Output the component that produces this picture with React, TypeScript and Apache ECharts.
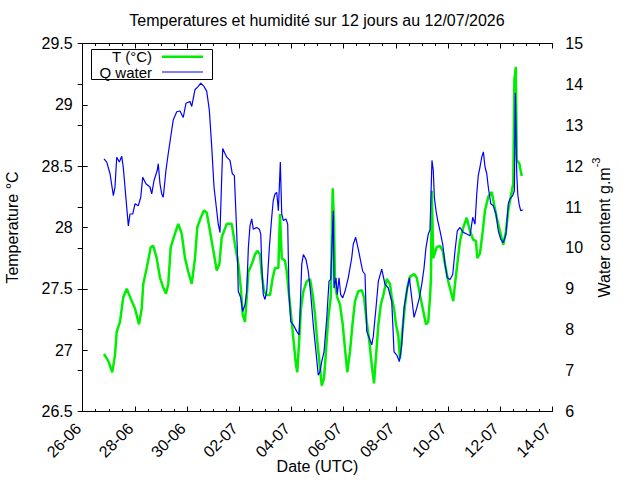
import React, { useEffect, useRef } from "react";
import * as echarts from "echarts";

// hours counted from 26-06-2026 00:00 UTC
const dateTickLabels = ["26-06", "28-06", "30-06", "02-07", "04-07", "06-07", "08-07", "10-07", "12-07", "14-07"];

const tempHours = [19.6, 23.6, 27.2, 29.7, 31.3, 34.3, 37.3, 40.5, 45.1, 48.1, 51.8, 54.3, 55.7, 58.9, 62.6, 64.9, 68.1, 71.1, 74.1, 76.6, 78.7, 81.0, 84.9, 87.9, 91.1, 94.1, 97.1, 100.3, 103.3, 105.4, 108.6, 111.6, 114.1, 117.1, 120.2, 123.3, 125.7, 127.9, 132.5, 137.1, 140.1, 143.2, 145.4, 147.2, 149.3, 150.9, 152.4, 155.5, 158.5, 160.6, 163.1, 164.7, 166.8, 169.3, 172.3, 174.8, 176.9, 180.0, 181.5, 183.1, 186.1, 187.7, 189.8, 192.3, 194.4, 196.2, 197.4, 199.3, 200.8, 203.0, 206.1, 209.1, 211.6, 213.7, 215.8, 217.7, 219.9, 222.0, 223.8, 225.9, 228.2, 230.0, 231.2, 232.1, 234.2, 236.7, 239.2, 241.3, 243.4, 245.9, 248.4, 250.5, 253.5, 256.7, 258.8, 261.3, 263.7, 265.9, 268.0, 272.0, 274.2, 276.6, 279.7, 282.7, 284.3, 286.4, 288.2, 290.3, 291.9, 294.0, 296.5, 298.6, 301.1, 304.8, 307.3, 310.3, 313.3, 315.8, 317.9, 319.5, 320.4, 321.1, 322.5, 325.7, 328.7, 331.2, 333.3, 336.3, 339.5, 340.9, 342.5, 344.6, 347.1, 350.1, 353.3, 356.3, 359.3, 361.8, 363.0, 365.5, 368.0, 370.1, 373.1, 376.3, 378.4, 380.9, 383.9, 386.9, 389.4, 391.5, 393.8, 396.1, 397.1, 398.4, 399.3, 401.7, 403.9];
const tempValues = [26.97, 26.91, 26.82, 26.96, 27.15, 27.23, 27.43, 27.5, 27.4, 27.34, 27.21, 27.34, 27.54, 27.67, 27.84, 27.85, 27.75, 27.59, 27.51, 27.46, 27.54, 27.84, 27.95, 28.03, 27.95, 27.75, 27.64, 27.54, 27.75, 28.0, 28.08, 28.14, 28.12, 27.97, 27.81, 27.65, 27.7, 27.92, 28.03, 28.03, 27.86, 27.7, 27.51, 27.29, 27.23, 27.43, 27.64, 27.7, 27.78, 27.81, 27.78, 27.62, 27.48, 27.45, 27.45, 27.59, 27.67, 27.67, 28.11, 27.75, 27.73, 27.64, 27.45, 27.23, 27.04, 26.88, 26.82, 27.1, 27.34, 27.48, 27.56, 27.58, 27.45, 27.29, 27.07, 26.91, 26.71, 26.77, 26.99, 27.26, 27.43, 28.32, 28.03, 27.54, 27.43, 27.37, 27.21, 27.01, 26.82, 26.99, 27.23, 27.4, 27.48, 27.49, 27.43, 27.23, 27.07, 26.88, 26.73, 27.21, 27.37, 27.45, 27.58, 27.54, 27.43, 27.34, 27.21, 27.12, 26.93, 27.15, 27.37, 27.51, 27.6, 27.62, 27.59, 27.45, 27.32, 27.21, 27.23, 27.43, 27.59, 28.3, 27.75, 27.84, 27.85, 27.81, 27.7, 27.56, 27.45, 27.4, 27.54, 27.7, 27.89, 28.0, 28.08, 27.97, 27.9, 27.89, 27.75, 27.79, 27.97, 28.14, 28.25, 28.29, 28.19, 28.08, 27.97, 27.86, 27.97, 28.14, 28.25, 28.36, 29.2, 29.31, 28.55, 28.52, 28.42];

const waterHours = [19.6, 22.1, 25.1, 28.2, 29.7, 31.3, 33.7, 35.9, 37.3, 38.9, 40.5, 42.0, 43.5, 46.0, 48.1, 51.1, 53.4, 55.2, 58.2, 61.9, 63.5, 65.6, 68.6, 69.5, 71.1, 72.7, 74.1, 76.6, 78.7, 81.0, 83.3, 86.5, 89.5, 92.5, 95.0, 98.7, 100.3, 103.3, 106.3, 108.6, 111.6, 114.1, 116.5, 118.7, 120.8, 123.3, 124.7, 126.3, 127.9, 128.8, 132.5, 135.5, 137.6, 139.5, 141.0, 142.2, 143.1, 145.4, 147.2, 149.3, 150.9, 152.4, 153.9, 155.5, 156.9, 160.1, 162.5, 163.8, 164.7, 166.1, 167.7, 169.3, 171.7, 173.9, 175.3, 176.9, 178.5, 180.0, 181.8, 183.1, 184.6, 187.0, 188.6, 189.8, 191.4, 193.7, 196.9, 199.0, 199.9, 201.5, 203.0, 205.4, 207.5, 209.8, 212.1, 214.6, 216.7, 218.3, 219.9, 222.0, 224.5, 226.6, 228.2, 230.5, 231.2, 233.0, 234.2, 235.8, 237.3, 239.2, 241.3, 244.3, 247.5, 248.9, 251.1, 253.5, 255.7, 257.6, 259.7, 261.3, 263.7, 265.9, 267.3, 269.8, 272.0, 275.1, 278.1, 281.1, 284.3, 286.4, 288.9, 291.3, 293.5, 295.6, 298.1, 300.5, 302.7, 304.8, 307.3, 309.7, 311.9, 314.0, 315.8, 317.9, 319.5, 321.3, 322.5, 323.5, 325.0, 326.6, 328.7, 331.2, 333.3, 335.4, 337.9, 340.4, 342.5, 344.6, 347.1, 350.1, 353.3, 356.3, 358.8, 360.9, 362.5, 363.9, 365.5, 367.1, 368.6, 370.1, 371.7, 373.1, 375.4, 377.7, 380.2, 382.3, 384.6, 386.9, 389.4, 391.5, 393.1, 395.6, 397.1, 398.0, 399.3, 400.2, 401.4, 402.9, 404.8];
const waterValues = [12.18, 12.1, 11.82, 11.28, 11.49, 12.22, 12.1, 12.24, 11.98, 11.49, 10.99, 10.54, 10.83, 10.83, 11.08, 11.03, 11.24, 11.73, 11.57, 11.49, 11.32, 11.65, 11.9, 12.06, 11.57, 11.32, 11.24, 11.9, 12.31, 12.72, 13.13, 13.33, 13.35, 13.19, 13.54, 13.58, 13.46, 13.87, 13.95, 14.03, 13.95, 13.83, 13.37, 12.47, 11.49, 10.91, 10.58, 10.38, 11.73, 12.43, 12.22, 12.14, 11.82, 11.77, 10.83, 10.01, 8.94, 8.78, 8.45, 8.61, 8.94, 10.01, 10.54, 10.71, 10.46, 10.5, 10.46, 10.34, 9.6, 8.86, 8.74, 8.94, 10.01, 10.75, 11.16, 11.32, 11.36, 10.91, 12.1, 10.83, 10.67, 10.71, 10.58, 8.86, 8.2, 8.12, 7.96, 7.87, 8.37, 9.6, 9.84, 9.72, 9.43, 8.86, 8.12, 7.46, 6.89, 6.97, 7.22, 7.46, 8.28, 9.19, 9.23, 10.91, 9.02, 9.27, 8.86, 9.27, 8.86, 8.78, 8.94, 9.27, 9.76, 10.09, 10.26, 9.97, 9.68, 9.43, 9.35, 7.96, 7.79, 7.63, 7.83, 8.53, 9.19, 9.48, 9.11, 9.02, 8.69, 7.46, 7.38, 7.22, 7.63, 8.53, 8.94, 9.27, 8.78, 8.3, 8.53, 8.78, 9.11, 9.51, 10.01, 10.34, 10.44, 12.14, 11.9, 11.24, 10.91, 10.67, 10.42, 10.09, 9.6, 9.27, 9.23, 9.35, 9.93, 10.42, 10.5, 10.38, 10.34, 10.3, 10.75, 10.58, 11.32, 11.77, 11.98, 12.22, 12.35, 11.98, 11.82, 11.49, 11.08, 11.03, 10.83, 10.42, 10.21, 10.13, 10.34, 11.08, 11.2, 11.28, 11.4, 13.79, 11.82, 11.32, 11.08, 10.91, 10.93];

const GREEN = "#00ee00";
const BLUE = "#0000ff";
const INK = "#000000";
const FONT = "'Liberation Sans', Arial, Helvetica, sans-serif";

const baseText = { fontSize: 16, fontFamily: FONT, color: INK };

function xAxisCommon(position: "bottom" | "top", withLabels: boolean) {
  return {
    type: "value",
    position,
    min: 0,
    max: 432,
    interval: 48,
    axisLine: { show: true, onZero: false, lineStyle: { color: INK, width: 1 } },
    axisTick: { show: true, inside: true, length: 5, lineStyle: { color: INK, width: 1 } },
    minorTick: { show: true, splitNumber: 4, length: 2.5, lineStyle: { color: INK, width: 1 } },
    splitLine: { show: false },
    minorSplitLine: { show: false },
    axisLabel: withLabels
      ? {
          show: true,
          rotate: 45,
          margin: 10,
          padding: [0, 6, 0, 0],
          showMinLabel: true,
          showMaxLabel: true,
          ...baseText,
          formatter: (v: number) => dateTickLabels[Math.round(v / 48)] ?? "",
        }
      : { show: false },
  };
}

export default function App() {
  const ref = useRef<HTMLDivElement>(null);

  useEffect(() => {
    if (!ref.current) return;
    const chart = echarts.init(ref.current, null, { renderer: "svg" });
    const tempData = tempHours.map((h, i) => [h, tempValues[i]]);
    const waterData = waterHours.map((h, i) => [h, waterValues[i]]);

    const legendText = {
      fontSize: 15,
      fontFamily: FONT,
      fill: INK,
      lineHeight: 14,
      align: "right",
      textAlign: "right",
      verticalAlign: "middle",
      textVerticalAlign: "middle",
    };

    const option: any = {
      animation: false,
      backgroundColor: "#ffffff",
      title: {
        text: "Temperatures et humidité sur 12 jours au 12/07/2026",
        left: 317,
        top: 12,
        textAlign: "center",
        padding: 0,
        textStyle: { ...baseText, fontWeight: "normal" },
      },
      grid: {
        left: 82.7,
        right: 87.7,
        top: 43.5,
        bottom: 68.5,
        containLabel: false,
        outerBoundsMode: "none",
      },
      xAxis: [
        {
          ...xAxisCommon("bottom", true),
          name: "Date (UTC)",
          nameLocation: "middle",
          nameGap: 47,
          nameMoveOverlap: false,
          nameTextStyle: baseText,
        },
        xAxisCommon("top", false),
      ],
      yAxis: [
        {
          type: "value",
          position: "left",
          min: 26.5,
          max: 29.5,
          interval: 0.5,
          axisLine: { show: true, lineStyle: { color: INK, width: 1 } },
          axisTick: { show: true, inside: true, length: 5, lineStyle: { color: INK } },
          splitLine: { show: false },
          axisLabel: { margin: 10, ...baseText },
          name: "Temperature °C",
          nameLocation: "middle",
          nameGap: 62,
          nameMoveOverlap: false,
          nameTextStyle: baseText,
        },
        {
          type: "value",
          position: "right",
          min: 6,
          max: 15,
          interval: 1,
          axisLine: { show: true, lineStyle: { color: INK, width: 1 } },
          axisTick: { show: true, inside: true, length: 5, lineStyle: { color: INK } },
          splitLine: { show: false },
          axisLabel: { margin: 13, ...baseText },
          name: "{base|Water content g.m}{sup|-3}",
          nameLocation: "middle",
          nameGap: 38,
          nameMoveOverlap: false,
          nameTextStyle: {
            ...baseText,
            rich: {
              base: { fontSize: 16, fontFamily: FONT, color: INK, lineHeight: 22, verticalAlign: "bottom" },
              sup: { fontSize: 11, fontFamily: FONT, color: INK, lineHeight: 11, verticalAlign: "top" },
            },
          },
        },
      ],
      graphic: [
        {
          type: "rect",
          shape: { x: 91.5, y: 49.5, width: 121, height: 30 },
          style: { fill: "none", stroke: INK, lineWidth: 1 },
          z: 100,
        },
        {
          type: "text",
          x: 152,
          y: 56.3,
          style: { text: "T (°C)", ...legendText },
          z: 100,
        },
        {
          type: "line",
          shape: { x1: 162, y1: 56.7, x2: 203, y2: 56.7 },
          style: { stroke: GREEN, lineWidth: 2.5 },
          z: 100,
        },
        {
          type: "text",
          x: 152,
          y: 72.3,
          style: { text: "Q water", ...legendText },
          z: 100,
        },
        {
          type: "line",
          shape: { x1: 162, y1: 72, x2: 203, y2: 72 },
          style: { stroke: BLUE, lineWidth: 1.2 },
          z: 100,
        },
      ],
      series: [
        {
          type: "line",
          name: "T (°C)",
          xAxisIndex: 0,
          yAxisIndex: 0,
          data: tempData,
          symbol: "none",
          showSymbol: false,
          lineStyle: { color: GREEN, width: 2.5 },
          itemStyle: { color: GREEN },
          z: 2,
        },
        {
          type: "line",
          name: "Q water",
          xAxisIndex: 0,
          yAxisIndex: 1,
          data: waterData,
          symbol: "none",
          showSymbol: false,
          lineStyle: { color: BLUE, width: 1.2 },
          itemStyle: { color: BLUE },
          z: 3,
        },
      ],
    };

    chart.setOption(option);
    return () => chart.dispose();
  }, []);

  return (
    <div
      ref={ref}
      style={{ position: "fixed", left: 0, top: 0, width: 640, height: 480, background: "#ffffff" }}
    />
  );
}
